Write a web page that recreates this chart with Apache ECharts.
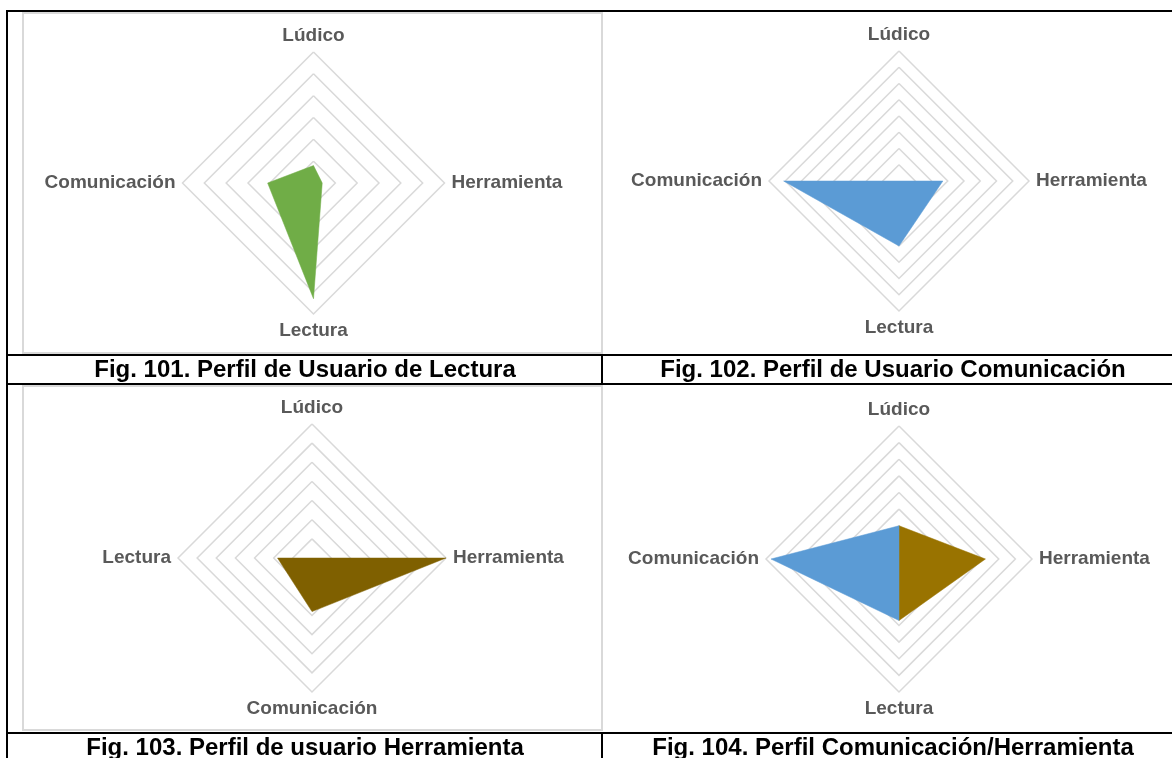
<!DOCTYPE html>
<html>
<head>
<meta charset="utf-8">
<style>
  html, body { margin: 0; padding: 0; background: #ffffff; }
  #chart { width: 1172px; height: 758px; }
</style>
<script src="https://cdn.jsdelivr.net/npm/echarts@6/dist/echarts.min.js"></script>
</head>
<body>
<div id="chart"></div>
<script>
// Profile categories, listed clockwise from the top axis
const categoriesFig101 = ['Lúdico', 'Herramienta', 'Lectura', 'Comunicación'];
const categoriesFig102 = ['Lúdico', 'Herramienta', 'Lectura', 'Comunicación'];
const categoriesFig103 = ['Lúdico', 'Herramienta', 'Comunicación', 'Lectura'];
const categoriesFig104 = ['Lúdico', 'Herramienta', 'Lectura', 'Comunicación'];

// Scores per category (same order as the category lists)
const valuesLectura = [8, 4, 53, 21];
const valuesComunicacion = [0, 27, 40, 71];
const valuesHerramienta = [0, 35, 14, 9];
const valuesMixComunicacion = [20, 0, 37, 77];
const valuesMixHerramienta = [20, 52, 37, 0];

// Axis scale of each radar: maximum and number of rings
const axisMax = [60, 80, 35, 80];
const ringCount = [6, 8, 7, 8];

const captions = [
  'Fig. 101. Perfil de Usuario de Lectura',
  'Fig. 102. Perfil de Usuario Comunicación',
  'Fig. 103. Perfil de usuario Herramienta',
  'Fig. 104. Perfil Comunicación/Herramienta'
];

// ECharts lays radar indicators out counter-clockwise; reorder clockwise lists
function ccw(list) {
  return [list[0]].concat(list.slice(1).reverse());
}

const FONT = '"Liberation Sans", Arial, Helvetica, sans-serif';
const GRID = '#d9d9d9';

function radarBox(center, radius, cats, max, rings) {
  return {
    center: center,
    radius: radius,
    startAngle: 90,
    shape: 'polygon',
    splitNumber: rings,
    nameGap: 7,
    indicator: ccw(cats).map(function (n) { return { name: n, min: 0, max: max }; }),
    axisName: { color: '#595959', fontSize: 19, fontWeight: 'bold', fontFamily: FONT },
    axisLine: { show: false },
    axisTick: { show: false },
    axisLabel: { show: false },
    splitArea: { show: false },
    splitLine: { lineStyle: { color: GRID, width: 1.5 } }
  };
}

function area(values, color) {
  return {
    value: ccw(values),
    symbol: 'none',
    areaStyle: { color: color, opacity: 1 },
    lineStyle: { color: color, width: 0.5 }
  };
}

function rect(x, y, w, h, fill) {
  return { type: 'rect', silent: true, shape: { x: x, y: y, width: w, height: h }, style: { fill: fill } };
}

function frame(x, y, w, h) {
  return { type: 'rect', silent: true, shape: { x: x, y: y, width: w, height: h },
           style: { fill: null, stroke: GRID, lineWidth: 2 } };
}

function caption(text, x, y) {
  return { type: 'text', silent: true,
           style: { x: x, y: y, text: text, fill: '#000000', fontSize: 24, fontWeight: 'bold',
                    fontFamily: FONT, textAlign: 'center', textVerticalAlign: 'middle' } };
}

const chart = echarts.init(document.getElementById('chart'), null, { renderer: 'canvas' });

chart.setOption({
  backgroundColor: '#ffffff',
  animation: false,
  radar: [
    radarBox([313.5, 183], 131, categoriesFig101, axisMax[0], ringCount[0]),
    radarBox([899, 181], 130, categoriesFig102, axisMax[1], ringCount[1]),
    radarBox([312, 558], 134, categoriesFig103, axisMax[2], ringCount[2]),
    radarBox([899, 559], 133, categoriesFig104, axisMax[3], ringCount[3])
  ],
  series: [
    { type: 'radar', radarIndex: 0, data: [area(valuesLectura, '#70ad47')] },
    { type: 'radar', radarIndex: 1, data: [area(valuesComunicacion, '#5b9bd5')] },
    { type: 'radar', radarIndex: 2, data: [area(valuesHerramienta, '#7f6000')] },
    { type: 'radar', radarIndex: 3, data: [
        area(valuesMixHerramienta, '#997300'),
        area(valuesMixComunicacion, '#5b9bd5')
    ] }
  ],
  graphic: [
    // chart area frames
    frame(23, 13, 579, 340),
    frame(23, 386, 579, 344),
    // table rules
    rect(6, 10, 1166, 2, '#000'),
    rect(6, 10, 2, 748, '#000'),
    rect(6, 354, 1166, 2, '#000'),
    rect(6, 383, 1166, 2, '#000'),
    rect(6, 732, 1166, 2, '#000'),
    rect(601, 355, 2, 29, '#000'),
    rect(601, 733, 2, 25, '#000'),
    // captions
    caption(captions[0], 305, 370),
    caption(captions[1], 893, 370),
    caption(captions[2], 305, 748),
    caption(captions[3], 893, 748)
  ]
});
</script>
</body>
</html>
